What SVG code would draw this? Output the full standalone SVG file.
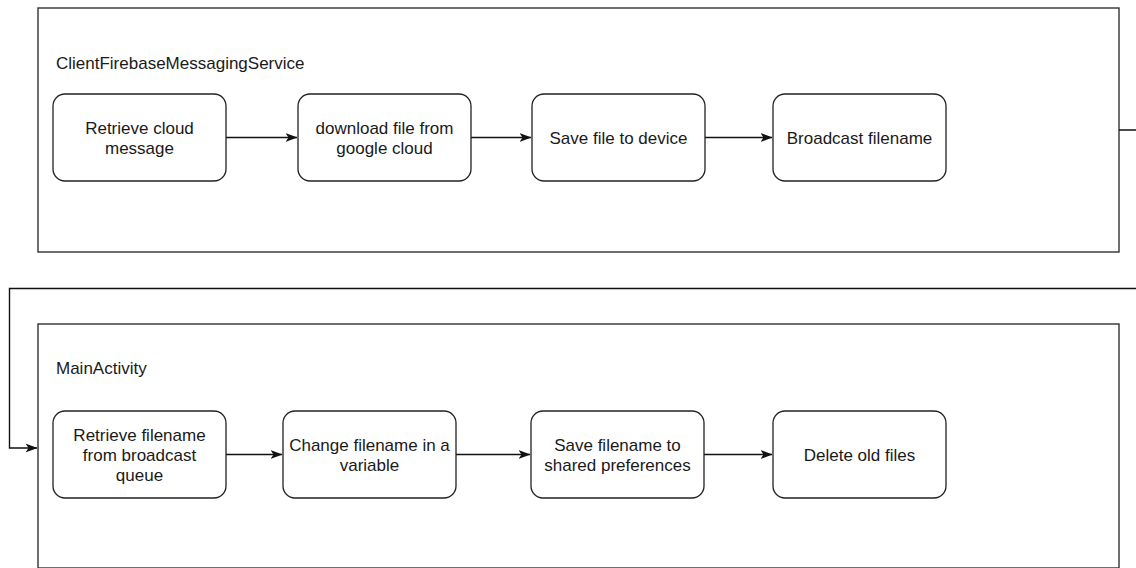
<svg xmlns="http://www.w3.org/2000/svg" width="1136" height="568" viewBox="0 0 1136 568">
<style>
.cont{fill:#fff;stroke:#333;stroke-width:1.4}
.node{fill:#fff;stroke:#222;stroke-width:1.3}
.lbl{font-family:"Liberation Sans",Arial,sans-serif;font-size:17px;fill:#1a1a1a}
.t{font-family:"Liberation Sans",Arial,sans-serif;font-size:17px;fill:#1a1a1a;text-anchor:middle}
.edge{fill:none;stroke:#111;stroke-width:1.4}
</style>
<defs>
<marker id="arr" viewBox="0 0 12 10" refX="11.5" refY="5" markerWidth="12" markerHeight="10" markerUnits="userSpaceOnUse" orient="auto">
<path d="M0,0.5 L12,5 L0,9.5 L3,5 Z" fill="#111"/>
</marker>
</defs>
<rect width="1136" height="568" fill="#fff"/>
<g id="container-service">
<rect class="cont" x="38" y="8" width="1081" height="244"/>
<text class="lbl" x="56" y="69">ClientFirebaseMessagingService</text>
</g>
<g id="container-main">
<rect class="cont" x="38" y="324" width="1081" height="244"/>
<text class="lbl" x="56" y="374">MainActivity</text>
</g>
<g id="connectors">
<path class="edge" d="M226,137.5 L297,137.5" marker-end="url(#arr)"/>
<path class="edge" d="M471,137.5 L531,137.5" marker-end="url(#arr)"/>
<path class="edge" d="M705,137.5 L772,137.5" marker-end="url(#arr)"/>
<path class="edge" d="M1119,130 L1140,130 L1140,288.5 L9.5,288.5 L9.5,448 L37,448" marker-end="url(#arr)"/>
<path class="edge" d="M226,454.5 L282,454.5" marker-end="url(#arr)"/>
<path class="edge" d="M456,454.5 L530,454.5" marker-end="url(#arr)"/>
<path class="edge" d="M704,454.5 L772,454.5" marker-end="url(#arr)"/>
</g>
<g id="n1">
<rect class="node" x="53" y="94" width="173" height="87" rx="12"/>
<text class="t" x="139.5" y="133.5">Retrieve cloud</text>
<text class="t" x="139.5" y="153.5">message</text>
</g>
<g id="n2">
<rect class="node" x="298" y="94" width="173" height="87" rx="12"/>
<text class="t" x="384.5" y="133.5">download file from</text>
<text class="t" x="384.5" y="153.5">google cloud</text>
</g>
<g id="n3">
<rect class="node" x="532" y="94" width="173" height="87" rx="12"/>
<text class="t" x="618.5" y="143.5">Save file to device</text>
</g>
<g id="n4">
<rect class="node" x="773" y="94" width="173" height="87" rx="12"/>
<text class="t" x="859.5" y="143.5">Broadcast filename</text>
</g>
<g id="m1">
<rect class="node" x="53" y="411" width="173" height="87" rx="12"/>
<text class="t" x="139.5" y="440.5">Retrieve filename</text>
<text class="t" x="139.5" y="460.5">from broadcast</text>
<text class="t" x="139.5" y="480.5">queue</text>
</g>
<g id="m2">
<rect class="node" x="283" y="411" width="173" height="87" rx="12"/>
<text class="t" x="369.5" y="450.5">Change filename in a</text>
<text class="t" x="369.5" y="470.5">variable</text>
</g>
<g id="m3">
<rect class="node" x="531" y="411" width="173" height="87" rx="12"/>
<text class="t" x="617.5" y="450.5">Save filename to</text>
<text class="t" x="617.5" y="470.5">shared preferences</text>
</g>
<g id="m4">
<rect class="node" x="773" y="411" width="173" height="87" rx="12"/>
<text class="t" x="859.5" y="460.5">Delete old files</text>
</g>
</svg>
